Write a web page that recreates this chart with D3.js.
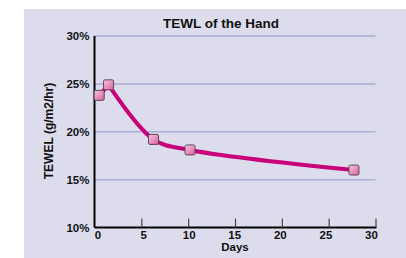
<!DOCTYPE html>
<html><head><meta charset="utf-8">
<script src="https://cdn.jsdelivr.net/npm/d3@7"></script>
<style>
body{margin:0;background:#fff;}
text{font-family:"Liberation Sans Narrow","Arial Narrow","Liberation Sans",Arial,sans-serif;font-weight:bold;fill:#111;}
</style></head><body>
<svg id="c" width="406" height="258"></svg>
<script>
const title = "TEWL of the Hand";
const xLabel = "Days";
const yLabel = "TEWEL (g/m2/hr)";
const days = [0.5, 1.5, 6.3, 10.2, 27.7];
const tewl = [23.8, 24.9, 19.2, 18.1, 16.0];
const xTicks = [0, 5, 10, 15, 20, 25, 30];
const yTicks = [10, 15, 20, 25, 30];

const svg = d3.select("#c");
svg.append("rect").attr("x",24).attr("y",9).attr("width",382).attr("height",249).attr("fill","#dcdcec");

const x = d3.scaleLinear().domain([0,30]).range([94.5,375.5]);
const y = d3.scaleLinear().domain([10,30]).range([227.5,36]);

// gridlines
svg.append("g").selectAll("line").data(yTicks.filter(d=>d>10)).join("line")
  .attr("x1",x(0)).attr("x2",x(30)).attr("y1",d=>y(d)).attr("y2",d=>y(d))
  .attr("stroke","#a9afd6").attr("stroke-width",1.5);

// x axis
const xAxis = d3.axisBottom(x).tickValues(xTicks).tickSize(-9).tickPadding(0).tickFormat(d3.format("d"));
const gx = svg.append("g").attr("transform",`translate(0,${y(10)})`).call(xAxis);
gx.select(".domain").attr("stroke","#000").attr("stroke-width",2).attr("d",`M${x(0)},0H${x(30)+1}`);
gx.selectAll(".tick line").attr("stroke","#444").attr("stroke-width",1.2).attr("opacity",d=>d===0?0:1);
gx.selectAll(".tick text").attr("y",11.5).attr("dy",null).attr("dx",d=>3-d*0.25).attr("font-size",11.5).attr("fill","#111");

// y axis
const yAxis = d3.axisLeft(y).tickValues(yTicks).tickSize(0).tickPadding(5).tickFormat(d=>d+"%");
const gy = svg.append("g").attr("transform",`translate(${x(0)},0)`).call(yAxis);
gy.select(".domain").attr("stroke","#000").attr("stroke-width",2).attr("d",`M0,${y(30)}V${y(10)}`);
gy.selectAll(".tick text").attr("font-size",11.5).attr("fill","#111");

// labels
svg.append("text").attr("x",221).attr("y",28).attr("text-anchor","middle").attr("font-size",13.5).text(title);
svg.append("text").attr("x",235).attr("y",251).attr("text-anchor","middle").attr("font-size",11.5).text(xLabel);
svg.append("text").attr("transform","translate(53,131) rotate(-90)").attr("text-anchor","middle").attr("font-size",12).text(yLabel);

// gradient
const defs = svg.append("defs");
const grad = defs.append("linearGradient").attr("id","mg").attr("x1","0").attr("y1","0").attr("x2","1").attr("y2","1");
grad.append("stop").attr("offset","0").attr("stop-color","#f9c6df");
grad.append("stop").attr("offset","1").attr("stop-color","#d8609e");

const pts = days.map((d,i)=>[d,tewl[i]]);
const straight = d3.line().x(d=>x(d[0])).y(d=>y(d[1]));
const smooth = d3.line().x(d=>x(d[0])).y(d=>y(d[1])).curve(d3.curveCatmullRom.alpha(0.5));
const lineStyle = p => p.attr("fill","none").attr("stroke","#c8007a").attr("stroke-width",4).attr("stroke-linejoin","round").attr("stroke-linecap","round");
svg.append("path").attr("d",straight(pts.slice(0,2))).call(lineStyle);
svg.append("path").attr("d",smooth(pts.slice(1))).call(lineStyle);

svg.append("g").selectAll("rect").data(pts).join("rect")
  .attr("x",d=>x(d[0])-5).attr("y",d=>y(d[1])-5).attr("width",10).attr("height",10)
  .attr("rx",1.5).attr("fill","url(#mg)").attr("stroke","#5a4858").attr("stroke-width",1);
</script>
</body></html>
